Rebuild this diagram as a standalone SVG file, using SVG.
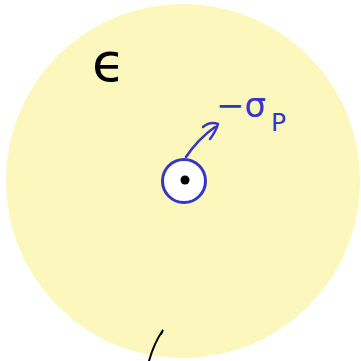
<svg xmlns="http://www.w3.org/2000/svg" width="361" height="361" viewBox="0 0 361 361">
<style>
.blue{stroke:#3535c8;fill:none;stroke-width:2.5;stroke-linecap:round;stroke-linejoin:round}
.bt{fill:#3535c8;font-family:"DejaVu Sans","Liberation Sans",sans-serif}
</style>
<rect width="361" height="361" fill="#ffffff"/>
<g id="medium">
<circle cx="183" cy="181" r="177" fill="#fbf7bd"/>
<text x="92" y="81" font-family="DejaVu Sans, sans-serif" font-size="54" fill="#000">ϵ</text>
</g>
<g id="charge">
<circle cx="184" cy="181" r="21.5" fill="#ffffff" stroke="#3535c8" stroke-width="3"/>
<circle cx="185" cy="180" r="4.5" fill="#000"/>
</g>
<g id="connectors">
<path class="blue" d="M186 157 Q198 139 215 127"/>
<path class="blue" d="M203 127 Q210 121 218 124 Q216 131 210 139"/>
<path d="M149 361 Q154 343 163 330 L161 334" fill="none" stroke="#000" stroke-width="2" stroke-linecap="round"/>
</g>
<g id="label">
<text class="bt" x="216" y="117" font-size="34">−σ</text>
<text class="bt" x="271" y="131" font-size="25">P</text>
</g>
</svg>
